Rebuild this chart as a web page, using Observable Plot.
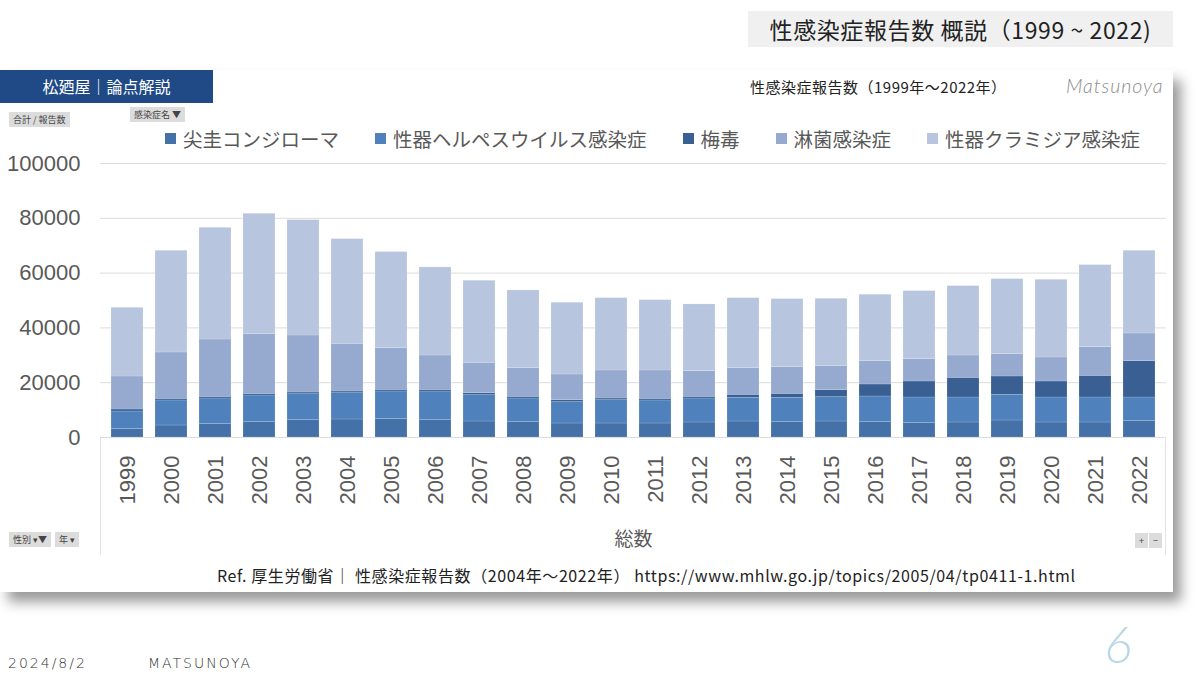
<!DOCTYPE html>
<html><head><meta charset="utf-8">
<script src="https://cdn.jsdelivr.net/npm/d3@7"></script>
<script src="https://cdn.jsdelivr.net/npm/@observablehq/plot@0.6"></script>
<style>
body{margin:0;width:1200px;height:675px;background:#fff;position:relative;overflow:hidden;font-family:"Noto Sans CJK JP","Noto Sans",sans-serif;}
.abs{position:absolute;white-space:nowrap;}
#title{left:748px;top:11px;width:425px;height:36px;background:#f0f0f0;font-size:23px;color:#222;line-height:36px;text-align:center;letter-spacing:0.6px;}
#panel{left:0;top:70px;width:1173px;height:522px;background:#fff;box-shadow:8px 10px 12px rgba(0,0,0,0.4);}
#hdr{left:0;top:70px;width:213px;height:33px;background:#1f4a85;color:#fff;font-size:16px;line-height:33px;text-align:center;}
#sub{left:750px;top:76px;font-size:15px;color:#222;letter-spacing:0.5px;}
#brand{left:1066px;top:74px;font-size:19.5px;color:#8a8a8a;font-family:"Lato",sans-serif;font-style:italic;font-weight:300;letter-spacing:1px;}
.btn{background:#dcdcdc;color:#444;font-size:9px;padding:1px 4px;line-height:13px;}
#legend{left:165px;top:124px;display:flex;gap:36px;font-size:19.5px;color:#595959;}
#legend .it{display:flex;align-items:center;}
#legend .sw{width:11px;height:11px;margin-right:7px;}
#chart{left:0;top:150px;}
#ref{left:217px;top:563px;font-size:16px;color:#222;letter-spacing:0.6px;}
.foot{font-family:"DejaVu Sans",sans-serif;font-size:14px;color:#333;top:655px;letter-spacing:2px;font-weight:300;}
#pg{left:1104px;top:612px;font-size:52px;color:#b8d8e6;font-family:"Lato",sans-serif;font-style:italic;font-weight:300;}
.vline{width:0;border-left:1px solid #e4e4e4;}
</style></head>
<body>
<div id="title" class="abs">性感染症報告数 概説（1999 ~ 2022)</div>
<div id="panel" class="abs"></div>
<div id="hdr" class="abs">松廼屋｜論点解説</div>
<div id="sub" class="abs">性感染症報告数（1999年～2022年）</div>
<div id="brand" class="abs">Matsunoya</div>
<div class="abs btn" style="left:9px;top:112px;">合計 / 報告数</div>
<div class="abs btn" style="left:130px;top:107px;">感染症名 ▼</div>
<div class="abs btn" style="left:9px;top:532px;">性別 ▾▼</div>
<div class="abs btn" style="left:55px;top:532px;">年 ▾</div>
<div class="abs btn" style="left:1135px;top:533px;">+</div>
<div class="abs btn" style="left:1149px;top:533px;">−</div>
<div class="abs vline" style="left:100px;top:437px;height:118px;"></div>
<div class="abs vline" style="left:1165px;top:437px;height:118px;"></div>
<div id="legend" class="abs"></div>
<div id="chart" class="abs"></div>
<div id="ref" class="abs">Ref. 厚生労働省｜ 性感染症報告数（2004年～2022年） https://www.mhlw.go.jp/topics/2005/04/tp0411-1.html</div>
<div class="abs foot" style="left:8px;">2024/8/2</div>
<div class="abs foot" style="left:148px;">MATSUNOYA</div>
<div id="pg" class="abs">6</div>
<script>
const years = ["1999","2000","2001","2002","2003","2004","2005","2006","2007","2008","2009","2010","2011","2012","2013","2014","2015","2016","2017","2018","2019","2020","2021","2022"];
const seriesNames = ["尖圭コンジローマ","性器ヘルペスウイルス感染症","梅毒","淋菌感染症","性器クラミジア感染症"];
const seriesColors = ["#4471a8","#4f82bd","#3a6093","#96aad0","#b8c5df"];
const condyloma = [3160,4380,4870,5600,6330,6570,6815,6330,5840,5600,5110,5110,5110,5480,5840,5600,5840,5600,5230,5480,6210,5480,5480,5960];
const herpes = [6330,9130,9370,9730,9490,9620,9980,10460,9620,8640,7790,8520,8400,8760,8640,8880,8890,9370,9370,9120,9370,9120,9120,8640];
const syphilis = [730,610,600,600,600,600,610,610,730,610,730,610,610,610,1100,1460,2550,4380,5850,7180,6690,5850,7910,13270];
const gonorrhea = [12050,16910,20930,21790,20810,17410,15220,12540,11070,10460,9370,10220,10340,9370,9730,9740,8760,8520,8150,8160,8160,8760,10470,10100];
const chlamydia = [25070,37120,40770,43930,42110,38210,35050,32130,29940,28360,26170,26410,25680,24340,25560,24830,24590,24220,24830,25310,27380,28350,29940,30180];
const yTicks = [0,20000,40000,60000,80000,100000];
const axisTitle = "総数";

const seriesValues = [condyloma, herpes, syphilis, gonorrhea, chlamydia];
const data = [];
seriesNames.forEach((s, i) => years.forEach((y, j) => data.push({year: y, series: s, value: seriesValues[i][j]})));

const leg = document.getElementById("legend");
seriesNames.forEach((s, i) => {
  const it = document.createElement("div"); it.className = "it";
  const sw = document.createElement("div"); sw.className = "sw"; sw.style.background = seriesColors[i];
  const t = document.createElement("span"); t.textContent = s;
  it.appendChild(sw); it.appendChild(t); leg.appendChild(it);
});

const chart = Plot.plot({
  width: 1200, height: 410,
  marginLeft: 100, marginRight: 34, marginTop: 13, marginBottom: 123,
  style: {fontFamily: "'Liberation Sans', Arial, sans-serif", fontSize: "22px", color: "#595959", background: "transparent", overflow: "visible"},
  x: {domain: years, paddingInner: 0.28, paddingOuter: 0.16, label: null},
  y: {domain: [0, 100000], label: null},
  color: {domain: seriesNames, range: seriesColors},
  marks: [
    Plot.gridY({ticks: yTicks, stroke: "#dcdcdc", strokeOpacity: 1}),
    Plot.barY(data, {x: "year", y: "value", fill: "series", order: seriesNames, stroke: "#ffffff", strokeOpacity: 0.25, strokeWidth: 0.6}),
    Plot.axisY({ticks: yTicks, tickSize: 0, tickPadding: 20, tickFormat: d => String(d), label: null}),
    Plot.axisX({tickSize: 0, tickRotate: -90, tickPadding: 18, label: null}),
    Plot.text([axisTitle], {frameAnchor: "bottom", dy: 108, fontSize: 19, fontFamily: "'Noto Sans CJK JP', sans-serif", fill: "#595959"})
  ]
});
document.getElementById("chart").appendChild(chart);
</script>
</body></html>
